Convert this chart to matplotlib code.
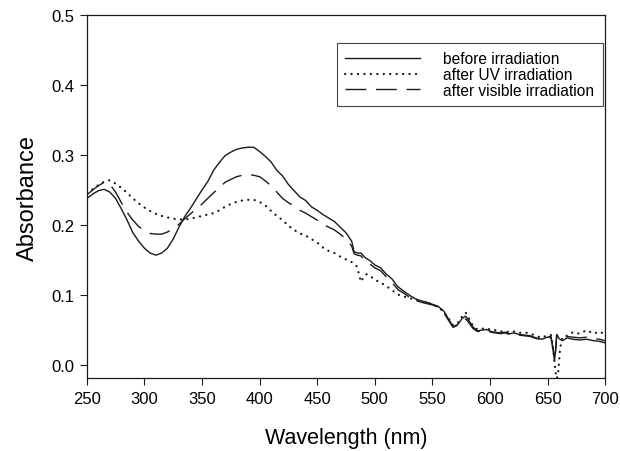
import matplotlib
matplotlib.use("Agg")
import matplotlib.pyplot as plt

plt.rcParams['font.family'] = ['Liberation Sans', 'DejaVu Sans']

# before irradiation (solid)
wl_before = [250, 255, 260, 265, 270, 275, 280, 285, 290, 295, 300, 305, 310, 315, 320, 325, 330, 335,
             340, 345, 350, 355, 360, 365, 370, 375, 380, 385, 390, 395, 400, 405, 410, 415, 420, 425,
             430, 435, 440, 445, 450, 455, 460, 465, 470, 475, 480, 482, 485, 488, 492, 496, 500, 505,
             510, 515, 520, 525, 530, 535, 540, 545, 550, 555, 560, 564, 568, 572, 576, 579, 582, 585,
             589, 593, 597, 601, 605, 609, 613, 617, 621, 625, 630, 635, 640, 645, 650, 653, 655, 656,
             657, 658, 660, 663, 667, 672, 678, 684, 690, 695, 700]
abs_before = [0.238, 0.244, 0.249, 0.251, 0.247, 0.238, 0.223, 0.207, 0.189, 0.177, 0.167, 0.160, 0.157,
              0.160, 0.167, 0.180, 0.197, 0.212, 0.224, 0.237, 0.250, 0.262, 0.278, 0.289, 0.299, 0.304,
              0.308, 0.310, 0.311, 0.311, 0.305, 0.298, 0.290, 0.278, 0.270, 0.258, 0.249, 0.240, 0.235,
              0.226, 0.221, 0.215, 0.210, 0.205, 0.197, 0.189, 0.177, 0.162, 0.160, 0.160, 0.153, 0.149,
              0.143, 0.139, 0.130, 0.123, 0.112, 0.106, 0.100, 0.095, 0.092, 0.090, 0.087, 0.084, 0.077,
              0.066, 0.055, 0.058, 0.067, 0.070, 0.063, 0.055, 0.049, 0.050, 0.051, 0.048, 0.047, 0.046,
              0.047, 0.045, 0.046, 0.044, 0.043, 0.042, 0.039, 0.037, 0.040, 0.041, 0.020, 0.006, 0.020,
              0.044, 0.038, 0.035, 0.039, 0.037, 0.036, 0.037, 0.035, 0.034, 0.032]

# after UV irradiation (dotted)
wl_uv = [250, 255, 260, 265, 270, 275, 280, 285, 290, 295, 300, 305, 310, 315, 320, 325, 330, 335,
         340, 345, 350, 355, 360, 365, 370, 375, 380, 385, 390, 395, 400, 405, 410, 415, 420, 425,
         430, 435, 440, 445, 450, 455, 460, 465, 470, 475, 480, 484, 486, 488, 490, 493, 497, 500,
         505, 510, 515, 520, 525, 530, 535, 540, 545, 550, 555, 560, 564, 568, 572, 576, 579, 582,
         585, 589, 593, 597, 601, 605, 609, 613, 617, 621, 625, 630, 635, 640, 645, 650, 653, 655,
         656, 657, 658, 659, 660, 661, 663, 667, 672, 678, 684, 690, 695, 700]
abs_uv = [0.246, 0.251, 0.257, 0.262, 0.264, 0.259, 0.253, 0.246, 0.238, 0.231, 0.225, 0.220, 0.216,
          0.213, 0.211, 0.209, 0.208, 0.208, 0.209, 0.211, 0.213, 0.215, 0.217, 0.221, 0.226, 0.230,
          0.233, 0.235, 0.236, 0.236, 0.233, 0.228, 0.220, 0.213, 0.207, 0.199, 0.193, 0.188, 0.185,
          0.180, 0.175, 0.168, 0.163, 0.160, 0.155, 0.151, 0.147, 0.142, 0.132, 0.119, 0.125, 0.130,
          0.126, 0.122, 0.118, 0.113, 0.107, 0.101, 0.098, 0.096, 0.093, 0.091, 0.089, 0.087, 0.083,
          0.076, 0.067, 0.057, 0.060, 0.070, 0.075, 0.066, 0.057, 0.051, 0.052, 0.053, 0.050, 0.050,
          0.048, 0.049, 0.047, 0.048, 0.046, 0.047, 0.045, 0.042, 0.039, 0.043, 0.043, 0.020, 0.005,
          -0.010, -0.019, -0.015, 0.005, 0.025, 0.040, 0.042, 0.047, 0.045, 0.050, 0.045, 0.048, 0.044]

# after visible irradiation (dashed)
wl_vis = wl_before
abs_vis = [0.243, 0.250, 0.256, 0.261, 0.258, 0.247, 0.232, 0.218, 0.207, 0.198, 0.192, 0.188, 0.187,
           0.187, 0.190, 0.195, 0.201, 0.209, 0.216, 0.223, 0.230, 0.238, 0.246, 0.253, 0.261, 0.265,
           0.269, 0.271, 0.272, 0.271, 0.269, 0.263, 0.256, 0.247, 0.238, 0.232, 0.227, 0.221, 0.217,
           0.212, 0.207, 0.201, 0.197, 0.193, 0.187, 0.180, 0.170, 0.159, 0.157, 0.156, 0.149, 0.144,
           0.139, 0.135, 0.126, 0.118, 0.108, 0.103, 0.097, 0.093, 0.090, 0.088, 0.086, 0.083, 0.075,
           0.064, 0.054, 0.057, 0.064, 0.066, 0.060, 0.053, 0.048, 0.049, 0.050, 0.047, 0.046, 0.045,
           0.046, 0.044, 0.045, 0.043, 0.042, 0.041, 0.038, 0.037, 0.039, 0.040, 0.022, 0.008, 0.022,
           0.043, 0.039, 0.037, 0.041, 0.040, 0.039, 0.040, 0.038, 0.037, 0.035]

labels = ["before irradiation", "after UV irradiation", "after visible irradiation"]
x_ticks = [250, 300, 350, 400, 450, 500, 550, 600, 650, 700]
y_ticks = [0.0, 0.1, 0.2, 0.3, 0.4, 0.5]

fig = plt.figure(figsize=(6.2, 4.52), dpi=100)
ax = fig.add_axes([0.140, 0.161, 0.836, 0.804])

ink = '#1a1a1a'
ax.plot(wl_before, abs_before, color=ink, lw=1.0, label=labels[0])
ax.plot(wl_uv, abs_uv, color=ink, lw=1.6, linestyle=(0, (0.1, 2.8)),
        dash_capstyle='round', label=labels[1])
ax.plot(wl_vis, abs_vis, color=ink, lw=1.0, linestyle=(0, (15, 7)), label=labels[2])

ax.set_xlim(250, 700)
ax.set_ylim(-0.0186, 0.5)
ax.set_xticks(x_ticks)
ax.set_yticks(y_ticks)
ax.set_yticklabels([f"{v:.1f}" for v in y_ticks])
ax.tick_params(direction='out', length=5, width=0.8, labelsize=12, color=ink, pad=4)
for s in ax.spines.values():
    s.set_linewidth(0.9)
    s.set_color(ink)

ax.set_xlabel("Wavelength (nm)", fontsize=15.5, labelpad=15)
ax.set_ylabel("Absorbance", fontsize=17, labelpad=9)

leg = ax.legend(loc='upper right', bbox_to_anchor=(0.996, 0.923), borderaxespad=0,
                fontsize=11.2, handlelength=4.8, handletextpad=1.5, fancybox=False,
                edgecolor='#444444', framealpha=1, borderpad=0.55, labelspacing=0.05)
leg.get_frame().set_linewidth(0.8)

fig.savefig("out.png", dpi=100)
